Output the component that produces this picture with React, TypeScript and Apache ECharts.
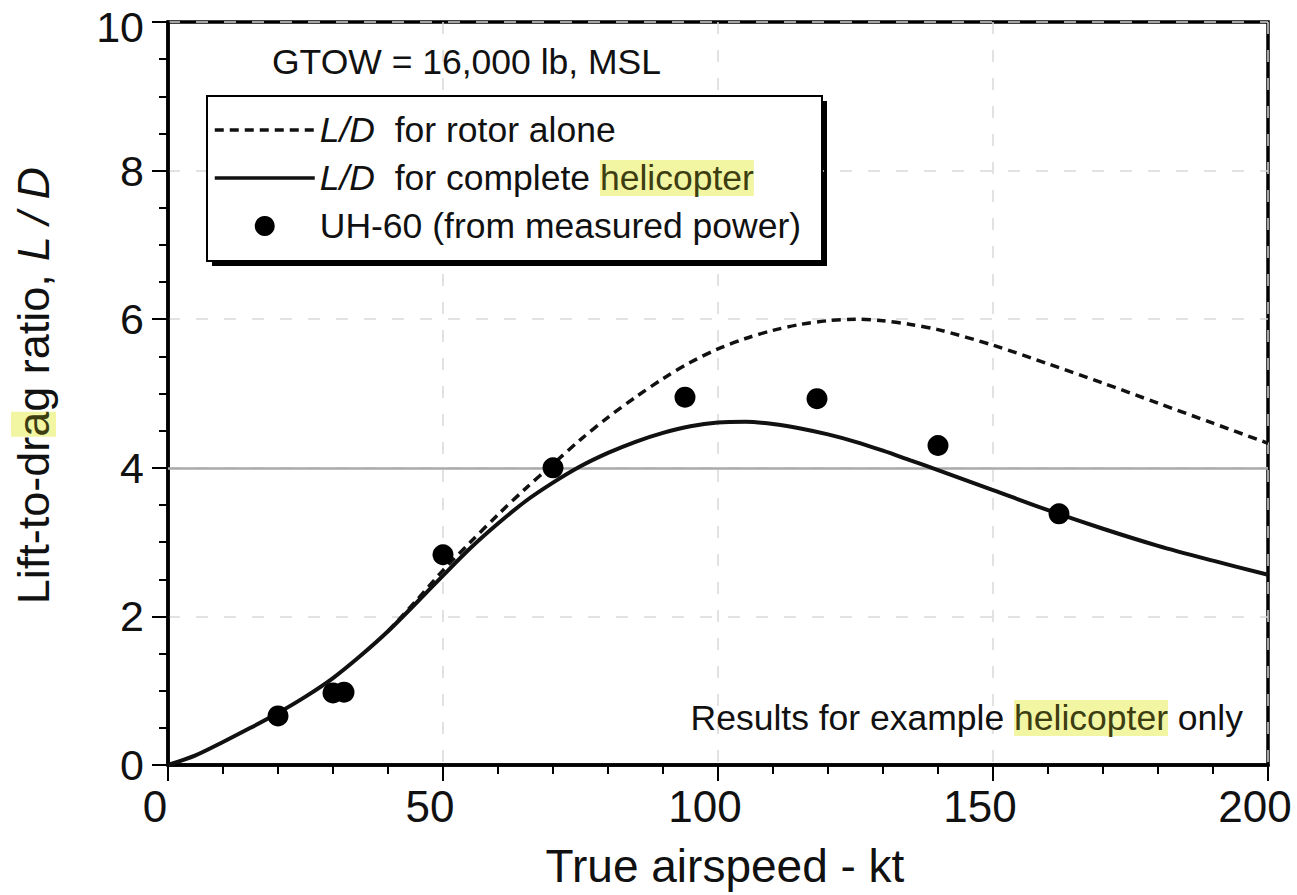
import React, { useEffect, useRef } from "react";
import * as echarts from "echarts";

// ---- data ----
const xTicks = [0, 50, 100, 150, 200];
const yTicks = [0, 2, 4, 6, 8, 10];

const heliX = [0, 5, 10, 15, 20, 25, 30, 35, 40, 45, 50, 55, 60, 65, 70, 75, 80, 85, 90, 95, 100, 105, 110, 115, 120, 125, 130, 135, 140, 150, 160, 170, 180, 190, 200];
const heliY = [0, 0.13, 0.31, 0.5, 0.7, 0.92, 1.17, 1.47, 1.8, 2.17, 2.55, 2.92, 3.25, 3.55, 3.8, 4.02, 4.2, 4.35, 4.47, 4.56, 4.61, 4.62, 4.59, 4.53, 4.45, 4.35, 4.23, 4.1, 3.97, 3.7, 3.43, 3.18, 2.95, 2.75, 2.56];

const rotorX = [40, 45, 50, 55, 60, 65, 70, 75, 80, 85, 90, 95, 100, 105, 110, 115, 120, 125, 130, 135, 140, 150, 160, 170, 180, 190, 200];
const rotorY = [1.8, 2.2, 2.62, 3.0, 3.37, 3.72, 4.05, 4.38, 4.68, 4.95, 5.2, 5.42, 5.6, 5.74, 5.85, 5.93, 5.98, 6.0, 5.98, 5.93, 5.86, 5.65, 5.4, 5.14, 4.87, 4.6, 4.33];

const uhX = [20, 30, 32, 50, 70, 94, 118, 140, 162];
const uhY = [0.66, 0.97, 0.98, 2.83, 4.0, 4.95, 4.93, 4.3, 3.38];

const seriesNames = ["rotor", "heli", "uh60"];
const legendLabels: Record<string, string> = {
  rotor: "{it|L/D}  for rotor alone",
  heli: "{it|L/D}  for complete {hl|helicopter}",
  uh60: "UH-60 (from measured power)",
};

const FONT = "'Liberation Sans', Arial, Helvetica, sans-serif";
const INK = "#111";
const HL_BG = "#f2f5a2";
const HL_FG = "#3d3d12";

const zip = (xs: number[], ys: number[]) => xs.map((x, i) => [x, ys[i]]);

export default function App() {
  const ref = useRef<HTMLDivElement>(null);
  useEffect(() => {
    if (!ref.current) return;
    const chart = echarts.init(ref.current, null, { renderer: "svg" });
    const gridLine = { show: true, lineStyle: { color: "#d9d9d9", type: [12, 16], width: 1.5 } };
    const TXT = 35.5;
    const yMax = yTicks[yTicks.length - 1];
    chart.setOption({
      animation: false,
      backgroundColor: "#fff",
      textStyle: { fontFamily: FONT },
      grid: { left: 168, top: 22, width: 1100, height: 743, show: true, borderColor: "#000", borderWidth: 3.5, backgroundColor: "transparent" },
      xAxis: {
        type: "value",
        min: xTicks[0],
        max: xTicks[xTicks.length - 1],
        interval: xTicks[1] - xTicks[0],
        name: "True airspeed - kt",
        nameLocation: "middle",
        nameGap: 78,
        nameTextStyle: { fontSize: 46, color: INK, fontFamily: FONT, padding: [0, 0, 0, 14] },
        axisLine: { show: true, lineStyle: { color: "#000", width: 3.5 } },
        axisTick: { show: true, length: 16, lineStyle: { color: "#000", width: 2 } },
        minorTick: { show: true, splitNumber: 5, length: 9, lineStyle: { color: "#000", width: 2 } },
        axisLabel: { fontSize: 44, color: INK, margin: 19, fontFamily: FONT, padding: [0, 26, 0, 0] },
        splitLine: gridLine,
      },
      yAxis: {
        type: "value",
        min: yTicks[0],
        max: yMax,
        interval: yTicks[1] - yTicks[0],
        name: "Lift-to-dr{hl|a}g ratio, {it|L / D}",
        nameLocation: "middle",
        nameGap: 112,
        nameRotate: 90,
        nameTextStyle: {
          fontSize: 45,
          color: INK,
          fontFamily: FONT,
          padding: [0, 0, 0, 16],
          rich: {
            hl: { fontSize: 45, color: HL_FG, backgroundColor: HL_BG, fontFamily: FONT },
            it: { fontSize: 45, color: INK, fontStyle: "italic", fontFamily: FONT },
          },
        },
        axisLine: { show: true, lineStyle: { color: "#000", width: 3.5 } },
        axisTick: { show: true, length: 16, lineStyle: { color: "#000", width: 2 } },
        minorTick: { show: true, splitNumber: 4, length: 9, lineStyle: { color: "#000", width: 2 } },
        axisLabel: {
          fontSize: 43,
          color: INK,
          margin: 24,
          fontFamily: FONT,
          formatter: (v: number) => (v === yMax ? "{top|" + v + "}" : String(v)),
          rich: { top: { fontSize: 43, color: INK, fontFamily: FONT, padding: [10, 0, 0, 0] } },
        },
        splitLine: gridLine,
      },
      legend: {
        orient: "vertical",
        left: 207,
        top: 100,
        padding: [10, 10, 10, 6],
        itemWidth: 100,
        itemHeight: 20,
        itemGap: 8,
        data: [
          { name: "rotor", itemStyle: { opacity: 0 } },
          { name: "heli", itemStyle: { opacity: 0 } },
          { name: "uh60", icon: "circle" },
        ],
        formatter: (n: string) => legendLabels[n] || n,
        lineStyle: { width: 3.5 },
        textStyle: {
          fontSize: TXT,
          color: INK,
          fontFamily: FONT,
          lineHeight: 40,
          rich: {
            it: { fontSize: TXT, fontStyle: "italic", color: INK, fontFamily: FONT, lineHeight: 40 },
            hl: { fontSize: TXT, color: HL_FG, backgroundColor: HL_BG, fontFamily: FONT, lineHeight: 40 },
          },
        },
        selectedMode: false,
      },
      graphic: [
        { type: "rect", z: 0, shape: { x: 212, y: 101, width: 615, height: 165 }, style: { fill: "#000" } },
        { type: "rect", z: 1, shape: { x: 207, y: 96, width: 615, height: 165 }, style: { fill: "#fff", stroke: "#000", lineWidth: 2 } },
        {
          type: "text",
          z: 5,
          x: 272,
          y: 62,
          style: { text: "GTOW = 16,000 lb, MSL", fontSize: TXT, fill: INK, fontFamily: FONT, verticalAlign: "middle", align: "left" },
        },
        {
          type: "text",
          z: 5,
          x: 1243,
          y: 718,
          style: {
            text: "Results for example {hl|helicopter} only",
            fontSize: TXT,
            fill: INK,
            fontFamily: FONT,
            verticalAlign: "middle",
            align: "right",
            rich: { hl: { fontSize: TXT, fill: HL_FG, backgroundColor: HL_BG, fontFamily: FONT } },
          },
        },
      ],
      series: [
        {
          name: seriesNames[0],
          type: "line",
          data: zip(rotorX, rotorY),
          smooth: 0.3,
          symbol: "none",
          lineStyle: { color: INK, width: 3.5, type: [9, 6] },
          itemStyle: { color: INK },
          z: 3,
          markLine: {
            silent: true,
            symbol: "none",
            z: 1,
            label: { show: false },
            lineStyle: { color: "#aaa", width: 2.5, type: "solid" },
            data: [{ yAxis: 4 }],
          },
        },
        {
          name: seriesNames[1],
          type: "line",
          data: zip(heliX, heliY),
          smooth: 0.3,
          symbol: "none",
          lineStyle: { color: INK, width: 4 },
          itemStyle: { color: INK },
          z: 3,
        },
        {
          name: seriesNames[2],
          type: "scatter",
          data: zip(uhX, uhY),
          symbol: "circle",
          symbolSize: 21,
          itemStyle: { color: "#000", opacity: 1 },
          z: 4,
        },
      ],
    });
    return () => chart.dispose();
  }, []);
  return <div ref={ref} style={{ position: "fixed", left: 0, top: 0, width: 1297, height: 895 }} />;
}
